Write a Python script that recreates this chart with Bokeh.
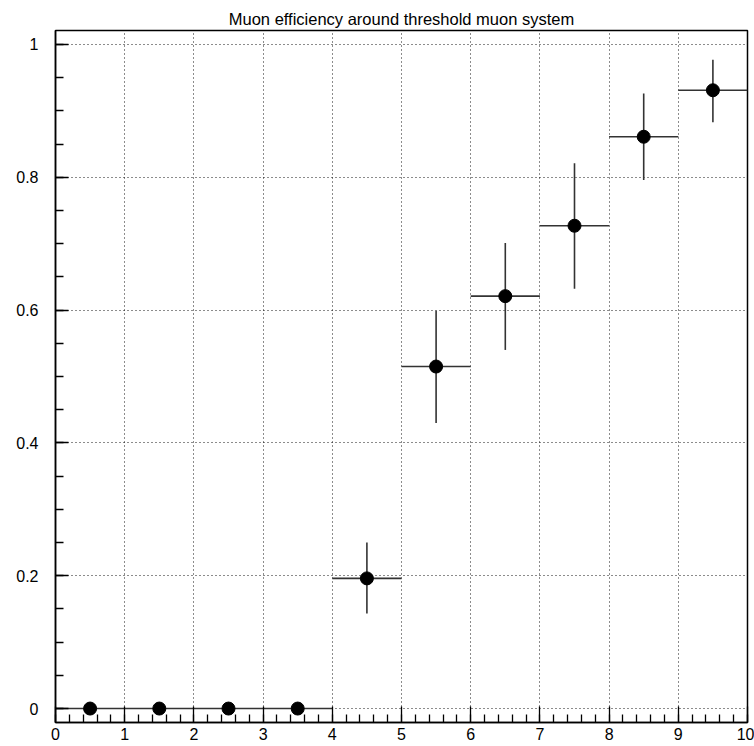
from bokeh.plotting import figure
from bokeh.models import FixedTicker, Range1d, ColumnDataSource
from bokeh.embed import file_html
from bokeh.resources import INLINE

# ---- data ----
bin_lo = [0, 1, 2, 3, 4, 5, 6, 7, 8, 9]
bin_hi = [1, 2, 3, 4, 5, 6, 7, 8, 9, 10]
x_center = [0.5, 1.5, 2.5, 3.5, 4.5, 5.5, 6.5, 7.5, 8.5, 9.5]
eff = [0.0, 0.0, 0.0, 0.0, 0.196, 0.515, 0.621, 0.727, 0.861, 0.931]
err_low = [0.0, 0.0, 0.0, 0.0, 0.053, 0.085, 0.081, 0.095, 0.065, 0.048]
err_high = [0.0, 0.0, 0.0, 0.0, 0.054, 0.084, 0.080, 0.094, 0.065, 0.046]

x_ticks = [0, 1, 2, 3, 4, 5, 6, 7, 8, 9, 10]
x_minor = [i / 5 for i in range(0, 51)]
y_ticks = [0, 0.2, 0.4, 0.6, 0.8, 1.0]
y_tick_labels = ["0", "0.2", "0.4", "0.6", "0.8", "1"]
y_minor = [i / 20 for i in range(0, 21)]

title = "Muon efficiency around threshold muon system"

src = ColumnDataSource(dict(
    lo=bin_lo, hi=bin_hi, x=x_center, y=eff,
    ylo=[e - l for e, l in zip(eff, err_low)],
    yhi=[e + h for e, h in zip(eff, err_high)],
))

p = figure(width=754, height=746, output_backend="svg", toolbar_location=None,
           x_range=Range1d(0, 10), y_range=Range1d(-0.021, 1.021),
           min_border_left=55, min_border_right=7, min_border_top=30,
           min_border_bottom=24)

p.title.text = title
p.title.align = "center"
p.title.text_font = "Liberation Sans"
p.title.text_font_size = "16.5px"
p.title.text_font_style = "normal"
p.title.text_color = "black"
p.title.offset = 0
p.title.standoff = 5

p.background_fill_color = "white"
p.border_fill_color = "white"
p.outline_line_color = "black"
p.outline_line_width = 1.5
p.outline_line_alpha = 1

# error bars
err_color = "#333333"
p.segment(x0="lo", x1="hi", y0="y", y1="y", source=src, line_color=err_color, line_width=1.6)
p.segment(x0="x", x1="x", y0="ylo", y1="yhi", source=src, line_color=err_color, line_width=1.6)
p.scatter(x="x", y="y", source=src, size=13, marker="circle",
          fill_color="black", line_color="black")

for ax in (p.xaxis[0], p.yaxis[0]):
    ax.axis_line_color = "black"
    ax.axis_line_width = 1.5
    ax.major_tick_line_color = "black"
    ax.minor_tick_line_color = "black"
    ax.major_tick_line_width = 1.3
    ax.minor_tick_line_width = 1.3
    ax.major_tick_out = 0
    ax.minor_tick_out = 0
    ax.major_label_text_font = "Liberation Sans"
    ax.major_label_text_font_size = "16px"
    ax.major_label_text_color = "black"

p.xaxis[0].ticker = FixedTicker(ticks=x_ticks, minor_ticks=x_minor)
p.xaxis[0].major_tick_in = 16
p.xaxis[0].minor_tick_in = 8
p.xaxis[0].major_label_standoff = 5

p.yaxis[0].ticker = FixedTicker(ticks=y_ticks, minor_ticks=y_minor)
p.yaxis[0].major_label_overrides = {t: l for t, l in zip(y_ticks, y_tick_labels)}
p.yaxis[0].major_tick_in = 13
p.yaxis[0].minor_tick_in = 8
p.yaxis[0].major_label_standoff = 17

for g in (p.xgrid[0], p.ygrid[0]):
    g.grid_line_color = "black"
    g.grid_line_dash = "1 3"
    g.grid_line_width = 1
    g.grid_line_alpha = 0.9

open("out.html", "w").write(file_html(p, INLINE))
